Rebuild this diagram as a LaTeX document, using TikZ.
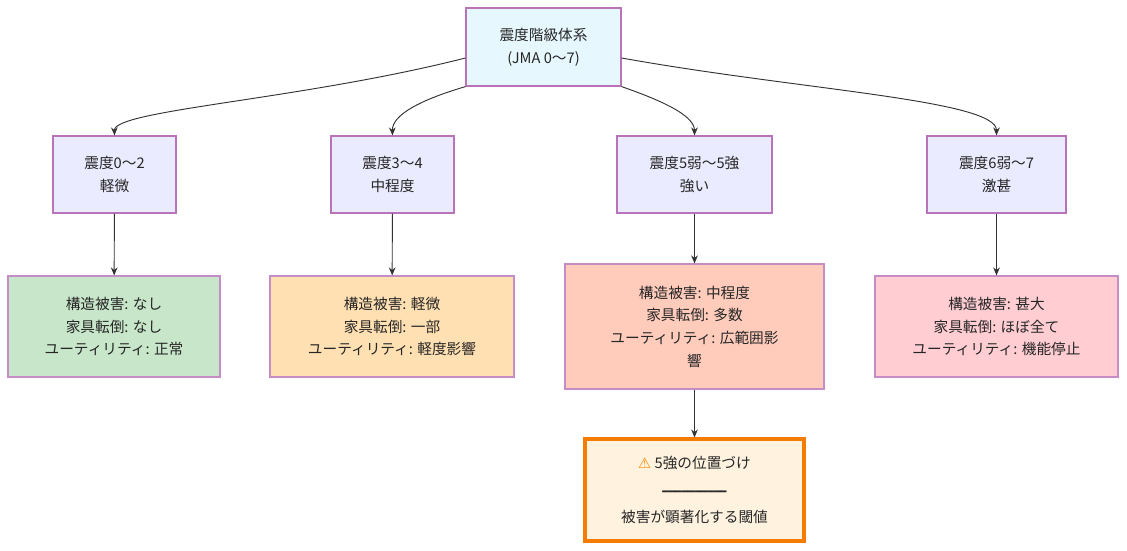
\documentclass[tikz,border=0pt]{standalone}
\usepackage{fontspec}
\setmainfont{Noto Sans CJK JP}
\newfontfamily\dejavu{DejaVu Sans}
\usetikzlibrary{arrows.meta}
\definecolor{edge}{HTML}{333333}
\definecolor{cA}{HTML}{C8E6C9}
\definecolor{cB}{HTML}{FFE0B2}
\definecolor{cC}{HTML}{FFCCBC}
\definecolor{cD}{HTML}{FFCDD2}
\definecolor{cE}{HTML}{FFF3E0}
\definecolor{sE}{HTML}{F57C00}
\begin{document}
\begin{tikzpicture}[x=0.75pt,y=-0.75pt,
  box/.style={draw=#1,line width=0.9pt,align=center,font=\fontsize{11}{17}\selectfont,text=black!85,inner sep=0pt},
  lvl/.style={box=violet!55,fill=blue!8},
  arr/.style={draw=edge,line width=0.7pt,-{Stealth[length=6pt,width=5pt]}}]
\useasboundingbox (0,0) rectangle (1127,550);
\node[box=violet!55,fill=cyan!10,minimum width=155*0.75pt,minimum height=78*0.75pt] (top) at (543.5,47) {震度階級体系\\(JMA 0～7)};
\node[lvl,minimum width=123*0.75pt,minimum height=77*0.75pt] (a) at (114.5,174.5) {震度0～2\\軽微};
\node[lvl,minimum width=123*0.75pt,minimum height=77*0.75pt] (b) at (392.5,174.5) {震度3～4\\中程度};
\node[lvl,minimum width=155*0.75pt,minimum height=77*0.75pt] (c) at (694.5,174.5) {震度5弱～5強\\強い};
\node[lvl,minimum width=139*0.75pt,minimum height=77*0.75pt] (d) at (996.5,174.5) {震度6弱～7\\激甚};
\node[box=violet!45,fill=cA,minimum width=212*0.75pt,minimum height=101*0.75pt] (a2) at (114,326.5) {構造被害: なし\\家具転倒: なし\\ユーティリティ: 正常};
\node[box=violet!45,fill=cB,minimum width=244*0.75pt,minimum height=101*0.75pt] (b2) at (392,326.5) {構造被害: 軽微\\家具転倒: 一部\\ユーティリティ: 軽度影響};
\node[box=violet!45,fill=cC,minimum width=259*0.75pt,minimum height=125*0.75pt] (c2) at (694.5,326.5) {構造被害: 中程度\\家具転倒: 多数\\ユーティリティ: 広範囲影\\響};
\node[box=violet!45,fill=cD,minimum width=243*0.75pt,minimum height=101*0.75pt] (d2) at (996.5,326.5) {構造被害: 甚大\\家具転倒: ほぼ全て\\ユーティリティ: 機能停止};
\node[box=sE,line width=2.3pt,fill=cE,minimum width=219*0.75pt,minimum height=102*0.75pt,font=\fontsize{11}{20}\selectfont] (e) at (694.5,490) {{\dejavu\textcolor{orange!90!yellow}{⚠}} 5強の位置づけ\\{\dejavu\fontsize{8}{10}\selectfont ━━━━━━━━━━}\\被害が顕著化する閾値};
\draw[arr] (top.west |- 0,58) .. controls (300,100) and (114,110) .. (a.north);
\draw[arr] (top.south west) .. controls (420,100) and (392,115) .. (b.north);
\draw[arr] (top.south east) .. controls (660,100) and (694.5,115) .. (c.north);
\draw[arr] (top.east |- 0,58) .. controls (800,90) and (996.5,100) .. (d.north);
\draw[arr] (a) -- (a2);
\draw[arr] (b) -- (b2);
\draw[arr] (c) -- (c2);
\draw[arr] (d) -- (d2);
\draw[arr] (c2) -- (e);
\end{tikzpicture}
\end{document}
